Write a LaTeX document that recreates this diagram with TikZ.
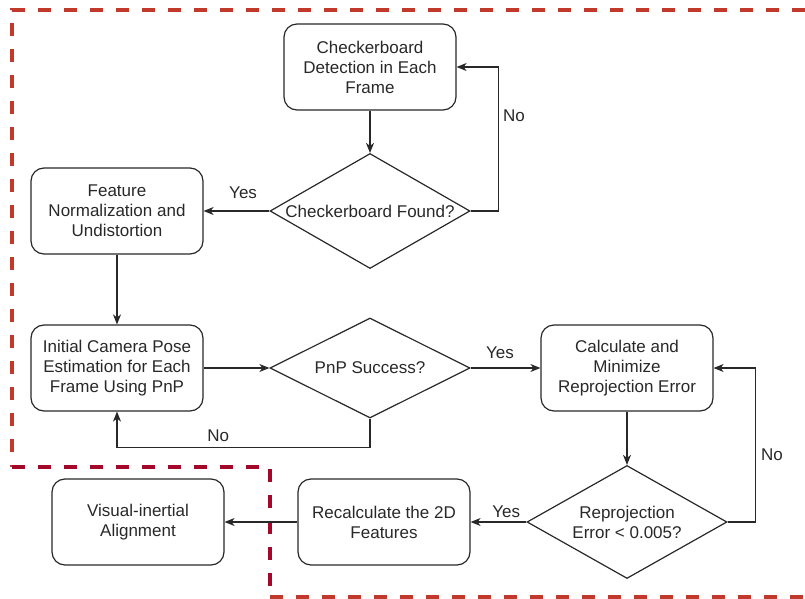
\documentclass[tikz,border=0pt]{standalone}
\usepackage{fontspec}
\setmainfont{Liberation Sans}
\usepackage{tikz}
\usetikzlibrary{shapes.geometric, arrows.meta}
\usetikzlibrary{positioning}
\definecolor{regionred}{RGB}{192,57,43}
\definecolor{stepred}{RGB}{163,8,42}
\definecolor{ink}{RGB}{40,40,40}
\tikzstyle{arrow} = [line width=1.2pt, draw=ink, -{Stealth[length=10pt,width=8pt,inset=3pt]}]
\tikzstyle{process} = [rectangle, rounded corners=13pt, minimum width=172pt, minimum height=86pt, text centered, align=center, line width=1.2pt, draw=ink, text=ink]
\tikzstyle{decision} = [diamond, aspect=1.75, inner sep=0pt, minimum width=200pt, text centered, align=center, line width=1.2pt, draw=ink, text=ink]
\tikzstyle{answer} = [text=ink, inner sep=0pt]
\tikzstyle{region} = [line width=4pt, dash pattern=on 13pt off 13pt]

\begin{document}
\begin{tikzpicture}[x=1pt, y=-1pt, font=\fontsize{17}{20}\selectfont]
            \useasboundingbox (0,0) rectangle (805,599);

            \node (detect) [process] at (370,67) {Checkerboard\\Detection in Each\\Frame};
            \node (found) [decision, minimum height=115pt, node distance=144pt, below of=detect] {Checkerboard Found?};
            \node (feature) [process, node distance=253pt, left of=found] {Feature\\Normalization and\\Undistortion};
            \node (initpose) [process, node distance=157pt, below of=feature] {Initial Camera Pose\\Estimation for Each\\Frame Using PnP};
            \node (pnp) [decision, minimum height=100pt, node distance=253pt, right of=initpose] {PnP Success?};
            \node (minerr) [process, node distance=257pt, right of=pnp] {Calculate and\\Minimize\\Reprojection Error};
            \node (reproj) [decision, minimum height=113pt, node distance=154pt, below of=minerr] {Reprojection\\Error < 0.005?};
            \node (recalc) [process, node distance=243pt, left of=reproj] {Recalculate the 2D\\Features};
            \node (vialign) [process, node distance=246pt, left of=recalc] {Visual-inertial\\Alignment};

            % dashed region
            \draw [region, draw=regionred] (805,10) -- (12,10) -- (12,467);
            \draw [region, draw=stepred] (12,467) -- (270,467) -- (270,597);
            \draw [region, draw=regionred] (270,597) -- (805,597);

            \draw [arrow] (detect) -- (found);
            \draw [arrow] (found.east) -- ++(28,0) |- node[answer, pos=0.33, right=4pt] {No} (detect.east);
            \draw [arrow] (found.west) -- node[answer, pos=0.4, above=12pt] {Yes} (feature.east);
            \draw [arrow] (feature) -- (initpose);
            \draw [arrow] (initpose) -- (pnp);
            \draw [arrow] (pnp.east) -- node[answer, pos=0.42, above=9pt] {Yes} (minerr.west);
            \draw [arrow] (pnp.south) -- ++(0,29) -| node[answer, pos=0.3, above=5pt] {No} (initpose.south);
            \draw [arrow] (minerr) -- (reproj);
            \draw [arrow] (reproj.east) -- ++(28,0) |- node[answer, pos=0.22, right=5pt] {No} (minerr.east);
            \draw [arrow] (reproj.west) -- node[answer, pos=0.36, above=4pt] {Yes} (recalc.east);
            \draw [arrow] (recalc) -- (vialign);

        \end{tikzpicture}
\end{document}
